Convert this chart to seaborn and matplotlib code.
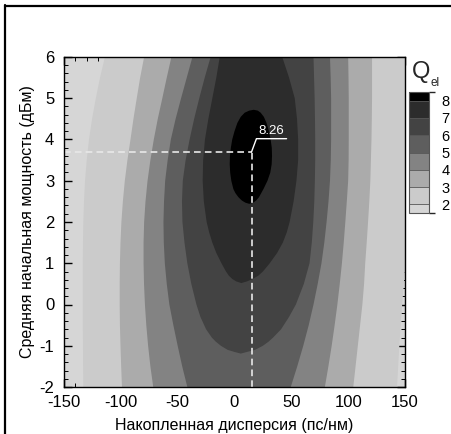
import matplotlib
matplotlib.use("Agg")
import matplotlib as mpl
import matplotlib.pyplot as plt
from matplotlib.colors import ListedColormap, BoundaryNorm
from matplotlib.lines import Line2D
from matplotlib.ticker import MultipleLocator
import seaborn as sns

sns.set_theme(style="ticks")
plt.rcParams["font.family"] = ["Liberation Sans", "DejaVu Sans"]
plt.rcParams["axes.unicode_minus"] = False

# Contour edges of Q_el: accumulated dispersion (ps/nm) where each level is
# crossed on the left / right side, per average launch power (dBm).
power_open = [-2, -1.5, -1, -0.5, 0, 0.5, 1, 1.5, 2, 2.5, 3, 3.5, 4, 4.5, 5, 5.5, 6]
q2_left = [-133, -133.2, -133.3, -133.5, -133.5, -133.5, -133.5, -133.3, -133,
           -132.4, -131.5, -130, -128, -125.3, -122, -118.3, -114]
q2_right = [143, 144, 145, 146.2, 147.5, 149, 150.5, 151.8, 153,
            154.5, 156, 157, 158, 159, 160, 161, 162]
q3_left = [-99, -99.7, -100.3, -100.8, -101, -101, -100.8, -100.3, -99.5,
           -98.2, -96.5, -94.2, -91.5, -88.9, -86, -83, -79.5]
q3_right = [104.5, 106.5, 108.5, 110.5, 112.5, 114, 115, 116.3, 117.5,
            118.6, 119.5, 120, 120.5, 120.8, 121, 121, 121]
q4_left = [-71.5, -74, -76, -77.6, -78.8, -79.6, -80, -80, -79.5,
           -78.3, -76.5, -74, -71, -67.5, -63.5, -59.6, -55.5]
q4_right = [79.5, 82.6, 85.5, 88.1, 90.5, 92.6, 94.5, 96.1, 97.5,
            98.8, 100, 100.4, 100.5, 100.5, 100.5, 100.3, 100]
q5_left = [-41.5, -46, -50, -53.8, -57.3, -59.6, -61.3, -62.2, -62.5,
           -62, -61, -58.8, -56, -51.8, -47, -42, -37]
q5_right = [49.5, 55.2, 60.5, 65.3, 69.5, 73.2, 76.5, 79, 81,
            82.7, 84, 84.7, 85, 85, 85, 84.6, 84]

power_q6 = [-1.19, -1.15, -1.1, -1.0, -0.9, -0.8, -0.6, -0.3, 0, 0.5, 1, 1.5,
            2, 2.5, 3, 3.5, 4, 4.5, 5, 5.5, 6]
q6_left = [5.5, 0, -6, -12, -16.5, -20, -25, -30, -33.5, -38, -41.5, -44,
           -45.8, -46.2, -45.5, -43, -39.5, -35.5, -31, -26.2, -21]
q6_right = [5.5, 11, 18, 25, 30, 34, 41, 48, 54, 61, 66, 68,
            69.3, 70.2, 70.7, 71, 71, 70.8, 70.5, 70, 69.5]

power_q7 = [0.52, 0.56, 0.62, 0.7, 0.8, 1.0, 1.25, 1.5, 1.75, 2.0, 2.5, 3.0,
            3.5, 4.0, 4.5, 5.0, 5.5, 6.0]
q7_left = [6, 1.5, -2, -5, -7.5, -11.5, -16, -19.5, -22.3, -24.5, -27, -28,
           -27.6, -26, -23, -19.5, -16, -13]
q7_right = [6, 11, 16, 21, 25, 31, 37.5, 42.5, 46, 48.5, 52, 54.5,
            56, 56, 55, 53, 48, 42]

power_q8 = [2.44, 2.47, 2.52, 2.6, 2.7, 2.8, 3.0, 3.2, 3.4, 3.6, 3.8, 4.0,
            4.2, 4.4, 4.55, 4.65, 4.7, 4.72]
q8_left = [13, 9.5, 6.5, 3.5, 0.8, -1, -2.8, -3.8, -4.2, -4, -3.2, -2,
           0, 2.5, 5.5, 9, 13, 17]
q8_right = [13, 16.5, 19, 21.5, 23.5, 25.5, 29, 31.5, 32.7, 33, 32.8, 31.8,
            30.3, 28.2, 25.8, 23, 20.5, 17]

levels = [2, 3, 4, 5, 6, 7, 8]
band_colors = ["#d6d6d6", "#cbcbcb", "#ababab", "#838383",
               "#5e5e5e", "#434343", "#2c2c2c", "#000000"]

peak_disp = 15
peak_power = 3.7
peak_q = 8.26

edges = [
    (power_open, q2_left, q2_right),
    (power_open, q3_left, q3_right),
    (power_open, q4_left, q4_right),
    (power_open, q5_left, q5_right),
    (power_q6, q6_left, q6_right),
    (power_q7, q7_left, q7_right),
    (power_q8, q8_left, q8_right),
]

W, H = 452, 434
fig = plt.figure(figsize=(W / 100, H / 100), dpi=100)
fig.patch.set_facecolor("white")
ax = fig.add_axes([64 / W, 1 - 387 / H, 341 / W, 330 / H])
ax.set_facecolor(band_colors[0])

# regions Q >= level, stacked from the lowest level upwards
for (pw, left, right), color in zip(edges, band_colors[1:]):
    xs = list(left) + list(right)[::-1]
    ys = list(pw) + list(pw)[::-1]
    ax.fill(xs, ys, color=color, lw=0, antialiased=True, zorder=1)

# maximum marker lines and label
dash = dict(color="#e8e8e8", lw=1.2, dashes=(4, 2.5), zorder=3)
ax.plot([-150, peak_disp], [peak_power, peak_power], **dash)
ax.plot([peak_disp, peak_disp], [-2, peak_power], **dash)
lx0, ly = peak_disp + 4.3, peak_power + 0.32
ax.plot([peak_disp, lx0, lx0 + 26.5], [peak_power, ly, ly],
        color="white", lw=1.0, zorder=4)
ax.text(lx0 + 1.5, ly + 0.04, f"{peak_q:.2f}", color="white", fontsize=9.5,
        ha="left", va="bottom", zorder=5)

ax.set_xlim(-150, 150)
ax.set_ylim(-2, 6)
ax.xaxis.set_major_locator(MultipleLocator(50))
ax.xaxis.set_minor_locator(MultipleLocator(10))
ax.yaxis.set_major_locator(MultipleLocator(1))
ax.yaxis.set_minor_locator(MultipleLocator(0.2))
ax.tick_params(which="both", direction="in", top=True, right=True,
               color="black", labelsize=12, labelcolor="black")
ax.tick_params(which="major", length=5.5, width=1.0, pad=6)
ax.tick_params(which="minor", length=3, width=0.7)
ax.tick_params(axis="y", which="major", pad=7)
for s in ax.spines.values():
    s.set_color("black")
    s.set_linewidth(1.0)
    s.set_zorder(6)

ax.set_xlabel("Накопленная дисперсия (пс/нм)", fontsize=11.5, color="black")
ax.set_ylabel("Средняя начальная мощность (дБм)", fontsize=11.5, color="black")
ax.xaxis.set_label_coords(0.5, -0.095)
ax.yaxis.set_label_coords(-0.085, 0.5)

# legend bar
cax = fig.add_axes([409 / W, 1 - 213 / H, 20 / W, 121 / H])
bounds = [1.5] + levels + [8.5]
cmap = ListedColormap(band_colors)
norm = BoundaryNorm(bounds, cmap.N)
cb = fig.colorbar(mpl.cm.ScalarMappable(norm=norm, cmap=cmap), cax=cax,
                  boundaries=bounds, spacing="proportional", ticks=levels,
                  drawedges=True)
cb.outline.set_edgecolor("#555555")
cb.outline.set_linewidth(0.8)
cb.dividers.set_color("#555555")
cb.dividers.set_linewidth(0.6)
cax.tick_params(length=0, pad=9, labelsize=10.5, labelcolor="black")

fig.text(412 / W, 1 - 78 / H, "Q", fontsize=17, va="baseline", ha="left")
fig.text(431 / W, 1 - 86 / H, "el", fontsize=8.5, va="baseline", ha="left")

# frame lines along the left and top edges of the figure
fig.add_artist(Line2D([5.5 / W, 5.5 / W], [0, 1 - 5 / H], color="black", lw=1.6))
fig.add_artist(Line2D([5.5 / W, 1], [1 - 5.5 / H, 1 - 5.5 / H], color="black", lw=1.6))

fig.savefig("out.png", dpi=100)
